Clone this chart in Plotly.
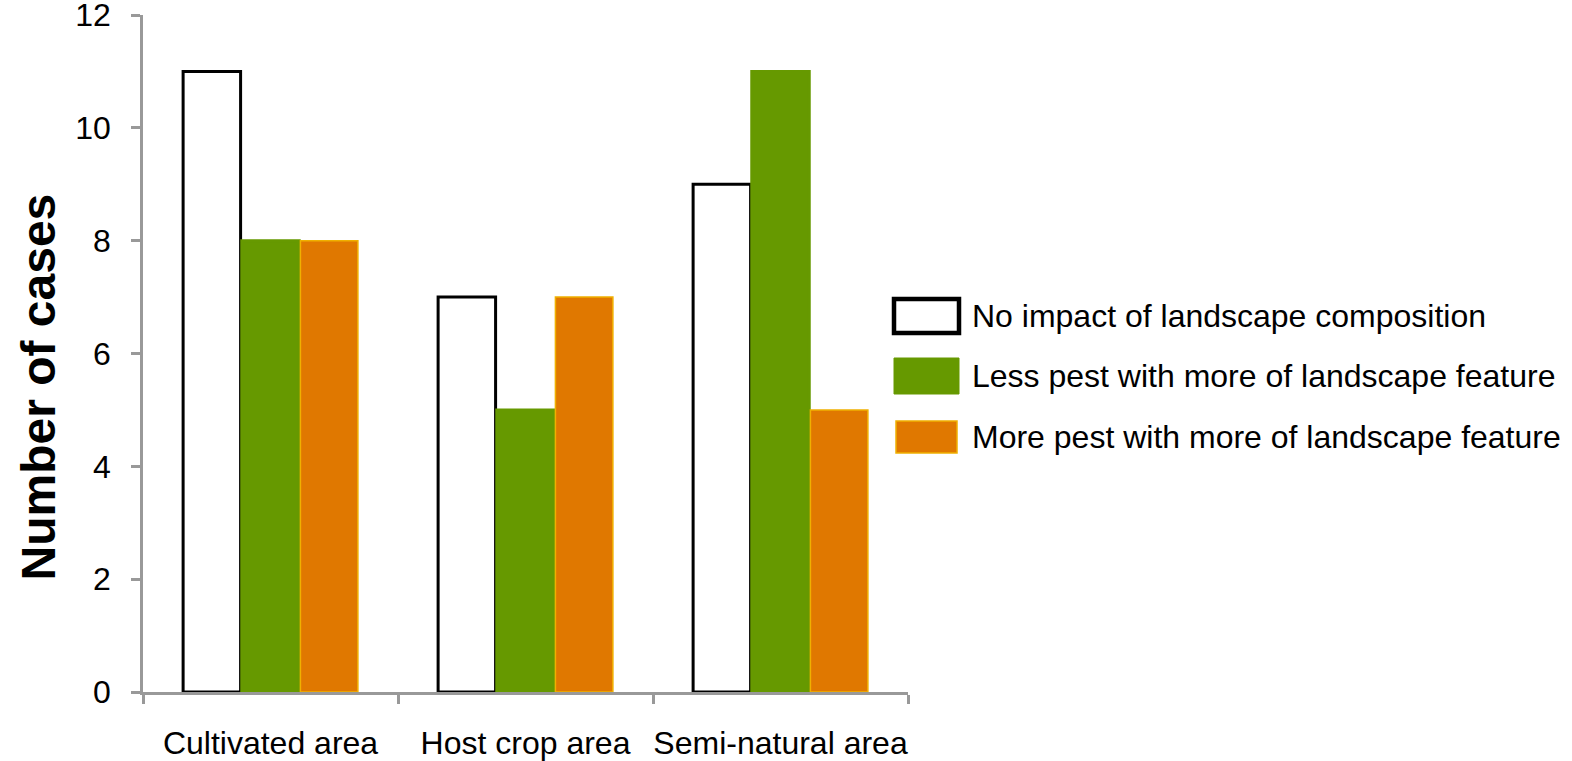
import plotly.graph_objects as go

# Data
categories = ["Cultivated area", "Host crop area", "Semi-natural area"]
series_names = [
    "No impact of landscape composition",
    "Less pest with more of landscape feature",
    "More pest with more of landscape feature",
]
no_impact = [11, 7, 9]
less_pest = [8, 5, 11]
more_pest = [8, 7, 5]
y_ticks = [0, 2, 4, 6, 8, 10, 12]

# Styling
FILL = ["#ffffff", "#669900", "#e07800"]
EDGE = ["#000000", "#669900", "#f0b000"]
EDGE_W = [3, 3, 1.5]
AXIS_GREY = "#999999"
FONT = "Liberation Sans, Arial, sans-serif"

W, H = 1572, 761
M_L, M_R, M_T, M_B = 143, 664, 15, 69
PW, PH = W - M_L - M_R, H - M_T - M_B


def px_x(p):
    return (p - M_L) / PW


def px_y(p):
    return (H - M_B - p) / PH


fig = go.Figure()
for name, vals, fc, ec, ew in zip(series_names, [no_impact, less_pest, more_pest], FILL, EDGE, EDGE_W):
    fig.add_trace(go.Bar(
        x=categories, y=vals, name=name,
        marker=dict(color=fc, line=dict(color=ec, width=ew)),
        showlegend=False, hoverinfo="x+y",
    ))

fig.update_layout(
    width=W, height=H,
    margin=dict(l=M_L, r=M_R, t=M_T, b=M_B, autoexpand=False),
    paper_bgcolor="white", plot_bgcolor="white",
    barmode="group", bargap=0.31, bargroupgap=0.02,
    font=dict(family=FONT, size=32, color="#000000"),
)

fig.update_xaxes(
    showgrid=False, showline=True, linecolor=AXIS_GREY, linewidth=2.5,
    ticks="outside", tickson="boundaries", ticklen=9, tickwidth=2.5, tickcolor=AXIS_GREY,
    ticklabelstandoff=21, tickangle=0, tickfont=dict(size=32, family=FONT),
    zeroline=False,
)
fig.update_yaxes(
    range=[0, 12], tickvals=y_ticks, showgrid=False, zeroline=False,
    showline=True, linecolor=AXIS_GREY, linewidth=2.5,
    ticks="outside", ticklen=9, tickwidth=2.5, tickcolor=AXIS_GREY,
    ticklabelstandoff=14, ticklabeloverflow="allow", tickfont=dict(size=32, family=FONT),
)

# Y-axis title
fig.add_annotation(
    text="<b>Number of cases</b>", xref="paper", yref="paper",
    x=0, y=0.5, xshift=-105, yshift=-34, xanchor="center", yanchor="middle",
    textangle=-90, showarrow=False, font=dict(size=48, family=FONT, color="#000000"),
)

# Legend drawn as swatches + labels
legend_rows = [(299, 333), (358, 394), (421, 453)]
swatch_x = [(894, 959), (894, 959), (896, 957)]
for name, fc, ec, ew, (y0, y1), (x0, x1) in zip(series_names, FILL, EDGE, [4.5, 1, 1.5], legend_rows, swatch_x):
    fig.add_shape(
        type="rect", xref="paper", yref="paper",
        x0=px_x(x0), x1=px_x(x1), y0=px_y(y1), y1=px_y(y0),
        fillcolor=fc, line=dict(color=ec, width=ew),
    )
    fig.add_annotation(
        text=name, xref="paper", yref="paper",
        x=px_x(970), y=px_y((y0 + y1) / 2), xanchor="left", yanchor="middle",
        showarrow=False, font=dict(size=32, family=FONT, color="#000000"),
    )

fig.write_html("out.html")
